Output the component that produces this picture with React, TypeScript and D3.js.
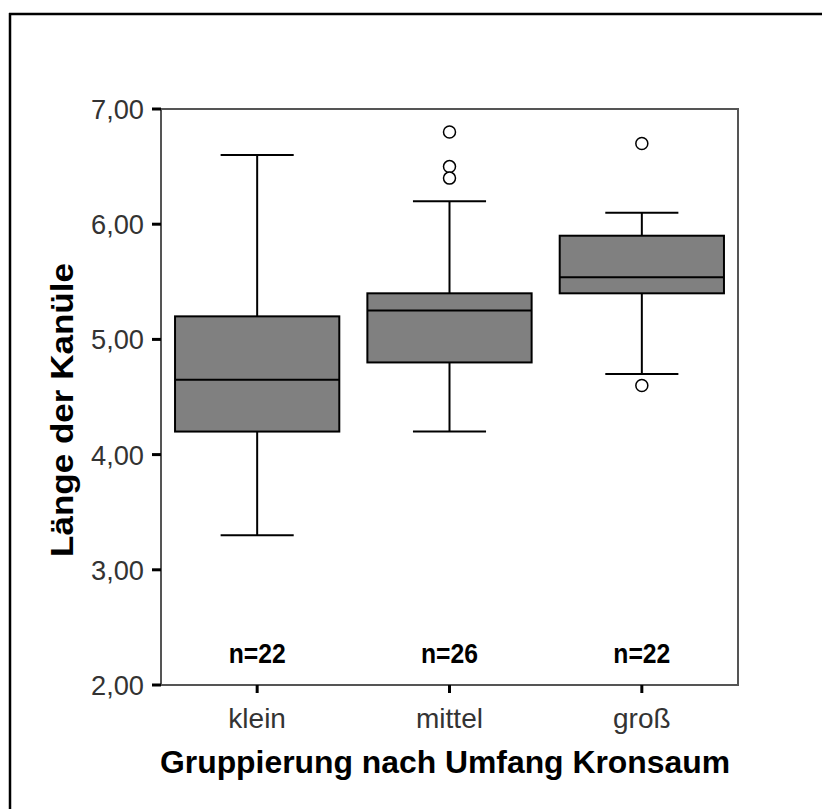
import React from "react";
import * as d3 from "d3";

// Boxplot: Länge der Kanüle by Kronsaum-Umfang group
const categories = ["klein", "mittel", "groß"];
const whiskerLow = [3.3, 4.2, 4.7];
const q1 = [4.2, 4.8, 5.4];
const median = [4.65, 5.25, 5.54];
const q3 = [5.2, 5.4, 5.9];
const whiskerHigh = [6.6, 6.2, 6.1];
const outliers = [[], [6.8, 6.5, 6.4], [6.7, 4.6]];
const counts = [22, 26, 22];
const yTicks = [2, 3, 4, 5, 6, 7];

const W = 822;
const H = 809;
const left = 161;
const right = 738;
const top = 109;
const bottom = 685;

export default function App() {
  const x = d3.scaleBand<string>().domain(categories).range([left, right]).padding(0);
  const y = d3.scaleLinear().domain([2, 7]).range([bottom, top]);
  const bw = x.bandwidth();
  const boxHalf = bw * 0.427;
  const capHalf = bw * 0.19;
  const fmt = (v: number) => d3.format(".2f")(v).replace(".", ",");
  const font = "'Liberation Sans', Arial, sans-serif";

  return (
    <svg
      width={W}
      height={H}
      style={{ position: "fixed", left: 0, top: 0, background: "#fff" }}
      fontFamily={font}
    >
      {/* outer frame (top and left edges) */}
      <line x1={9} y1={14} x2={W} y2={14} stroke="#000" strokeWidth={2.5} />
      <line x1={10} y1={13} x2={10} y2={H} stroke="#000" strokeWidth={2.5} />

      {/* plot frame */}
      <rect
        x={left}
        y={top}
        width={right - left}
        height={bottom - top}
        fill="#fff"
        stroke="#555"
        strokeWidth={2}
      />

      {/* y axis ticks and labels */}
      {yTicks.map((t) => (
        <g key={t}>
          <line x1={152} x2={left} y1={y(t)} y2={y(t)} stroke="#000" strokeWidth={3} />
          <text
            x={144}
            y={y(t) + 10}
            textAnchor="end"
            fontSize={28}
            fill="#333"
            textLength={53}
            lengthAdjust="spacingAndGlyphs"
          >
            {fmt(t)}
          </text>
        </g>
      ))}

      {/* x axis ticks and labels */}
      {categories.map((c) => {
        const cx = (x(c) as number) + bw / 2;
        return (
          <g key={c}>
            <line x1={cx} x2={cx} y1={bottom} y2={693} stroke="#000" strokeWidth={3} />
            <text x={cx} y={728} textAnchor="middle" fontSize={28} fill="#333">
              {c}
            </text>
          </g>
        );
      })}

      {/* boxes */}
      {categories.map((c, i) => {
        const cx = (x(c) as number) + bw / 2;
        return (
          <g key={"b" + c}>
            <line x1={cx} x2={cx} y1={y(whiskerHigh[i])} y2={y(q3[i])} stroke="#000" strokeWidth={2} />
            <line x1={cx} x2={cx} y1={y(q1[i])} y2={y(whiskerLow[i])} stroke="#000" strokeWidth={2} />
            <line x1={cx - capHalf} x2={cx + capHalf} y1={y(whiskerHigh[i])} y2={y(whiskerHigh[i])} stroke="#000" strokeWidth={2} />
            <line x1={cx - capHalf} x2={cx + capHalf} y1={y(whiskerLow[i])} y2={y(whiskerLow[i])} stroke="#000" strokeWidth={2} />
            <rect
              x={cx - boxHalf}
              y={y(q3[i])}
              width={boxHalf * 2}
              height={y(q1[i]) - y(q3[i])}
              fill="#808080"
              stroke="#000"
              strokeWidth={2}
            />
            <line x1={cx - boxHalf} x2={cx + boxHalf} y1={y(median[i])} y2={y(median[i])} stroke="#000" strokeWidth={2} />
            {outliers[i].map((o, j) => (
              <circle key={j} cx={cx} cy={y(o)} r={6} fill="#fff" stroke="#000" strokeWidth={1.5} />
            ))}
            <text
              x={cx}
              y={663}
              textAnchor="middle"
              fontSize={27}
              fontWeight="bold"
              fill="#000"
              textLength={57}
              lengthAdjust="spacingAndGlyphs"
            >
              {"n=" + counts[i]}
            </text>
          </g>
        );
      })}

      {/* axis titles */}
      <text
        x={445}
        y={773}
        textAnchor="middle"
        fontSize={32}
        fontWeight="bold"
        fill="#000"
        textLength={570}
        lengthAdjust="spacingAndGlyphs"
      >
        Gruppierung nach Umfang Kronsaum
      </text>
      <text
        transform={`translate(73, 410) rotate(-90)`}
        textAnchor="middle"
        fontSize={32}
        fontWeight="bold"
        fill="#000"
        textLength={294}
        lengthAdjust="spacingAndGlyphs"
      >
        Länge der Kanüle
      </text>
    </svg>
  );
}
